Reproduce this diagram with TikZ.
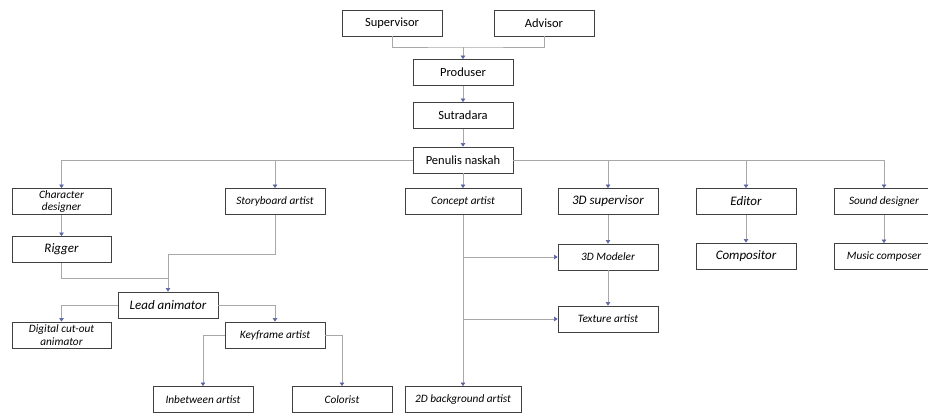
\documentclass[tikz,border=0pt]{standalone}
\usepackage{fontspec}
\setmainfont{Carlito}
\usetikzlibrary{arrows.meta}
\definecolor{linec}{HTML}{A8A8A8}
\definecolor{tipc}{HTML}{5A64A0}
\begin{document}
\begin{tikzpicture}[x=1pt,y=-1pt,
 box/.style={draw=black!75, line width=0.8pt, minimum width=100pt, minimum height=26pt, inner sep=0.5pt, align=center},
 up/.style={box, font=\fontsize{12.5}{13}\selectfont},
 itbig/.style={box, font=\fontsize{13}{13}\selectfont\itshape},
 it/.style={box, font=\fontsize{11.3}{12.5}\selectfont\itshape},
 conn/.style={draw=linec, line width=0.6pt},
 arr/.style={conn, -{Triangle[width=4.5pt,length=3.5pt,color=tipc]}}]
\useasboundingbox (0,0) rectangle (928,416);
% top
\node[up] (sup) at (392,23) {Supervisor};
\node[up] (adv) at (544,23) {Advisor};
\node[up] (prod) at (463,72.5) {Produser};
\node[up] (sut) at (463,115.5) {Sutradara};
\node[up] (pen) at (463,160) {Penulis naskah};
% row 1
\node[it, minimum width=99pt] (chd) at (61.5,201.5) {Character\\designer};
\node[it] (sb) at (275,201.5) {Storyboard artist};
\node[it, minimum width=116pt] (con) at (463,201.5) {Concept artist};
\node[itbig] (s3d) at (608,201.5) {3D supervisor};
\node[itbig] (ed) at (746,201.5) {Editor};
\node[it] (snd) at (884,201.5) {Sound designer};
% row 2
\node[itbig, minimum width=99pt] (rig) at (61.5,249.5) {Rigger};
\node[it] (m3d) at (608,257) {3D Modeler};
\node[itbig] (comp) at (746,256) {Compositor};
\node[it] (mus) at (884,256.5) {Music composer};
% lower
\node[itbig] (lead) at (168,305) {Lead animator};
\node[it] (tex) at (608,319) {Texture artist};
\node[it, minimum width=99pt] (dco) at (61.5,335) {Digital cut-out\\animator};
\node[it] (kf) at (275,335) {Keyframe artist};
\node[it] (inb) at (203,399.5) {Inbetween artist};
\node[it] (col) at (342,399.5) {Colorist};
\node[it, minimum width=116pt] (bg) at (463,399.5) {2D background artist};
% connectors top
\coordinate (j1) at (463,47);
\draw[conn] (sup.south) |- (j1) -| (adv.south);
\draw[arr] (j1) -- (prod.north);
\draw[arr] (prod) -- (sut);
\draw[arr] (sut) -- (pen);
\draw[arr] (pen.west) -| (chd.north);
\draw[arr] (pen.west) -| (sb.north);
\draw[arr] (pen.south) -- (con.north);
\draw[arr] (pen.east) -| (s3d.north);
\draw[arr] (pen.east) -| (ed.north);
\draw[arr] (pen.east) -| (snd.north);
% columns
\draw[arr] (chd) -- (rig);
\draw[arr] (s3d) -- (m3d);
\draw[arr] (m3d) -- (tex);
\draw[arr] (ed) -- (comp);
\draw[arr] (snd) -- (mus);
% lead animator
\coordinate (j2) at (168,278);
\coordinate (j3) at (168,254);
\draw[conn] (rig.south) |- (j2);
\draw[conn] (sb.south) |- (j3);
\draw[arr] (j3) -- (lead.north);
\draw[arr] (lead.west) -| (dco.north);
\draw[arr] (lead.east) -| (kf.north);
\draw[arr] (kf.west) -| (inb.north);
\draw[arr] (kf.east) -| (col.north);
% concept
\draw[arr] (con.south) -- (bg.north);
\coordinate (b1) at (con.south |- m3d.west);
\coordinate (b2) at (con.south |- tex.west);
\draw[arr] (b1) -- (m3d.west);
\draw[arr] (b2) -- (tex.west);
\end{tikzpicture}
\end{document}
